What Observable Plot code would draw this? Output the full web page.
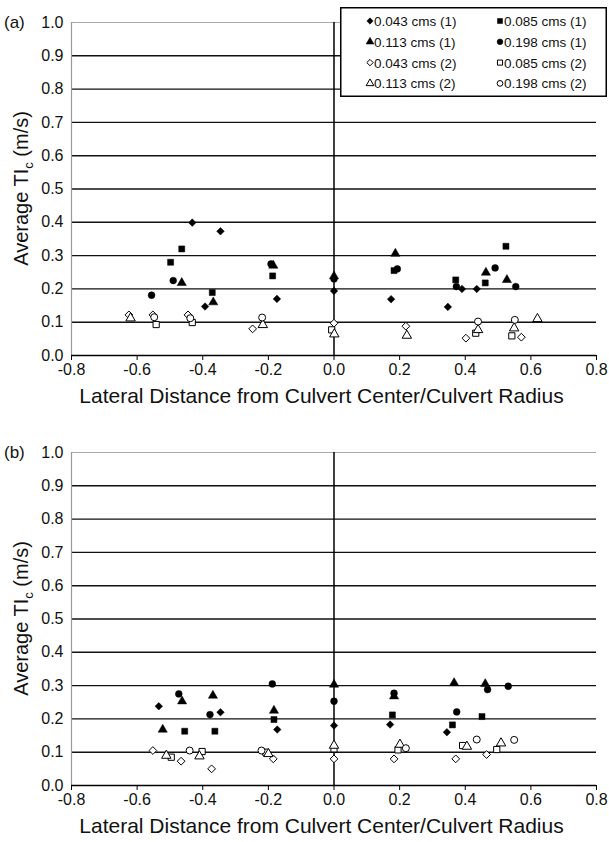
<!DOCTYPE html>
<html><head><meta charset="utf-8">
<script src="https://cdn.jsdelivr.net/npm/d3@7"></script>
<script src="https://cdn.jsdelivr.net/npm/@observablehq/plot@0.6"></script>
<style>
body{margin:0;background:#fff;font-family:"Liberation Sans",Arial,sans-serif;}
#wrap{position:relative;width:609px;height:842px;overflow:hidden;}
.panel{position:absolute;left:0;}
</style></head><body><div id="wrap"></div>
<script>
// ---- axes / legend data ----
const xTicks = [-0.8, -0.6, -0.4, -0.2, 0, 0.2, 0.4, 0.6, 0.8];
const yTicks = [0, 0.1, 0.2, 0.3, 0.4, 0.5, 0.6, 0.7, 0.8, 0.9, 1.0];
const seriesNames = ["0.043 cms (1)", "0.085 cms (1)", "0.113 cms (1)", "0.198 cms (1)",
                     "0.043 cms (2)", "0.085 cms (2)", "0.113 cms (2)", "0.198 cms (2)"];
const seriesSymbols = ["diamond2", "square", "triangle", "circle", "diamond2", "square", "triangle", "circle"];
const seriesFilled = [true, true, true, true, false, false, false, false];
const xTitle = "Lateral Distance from Culvert Center/Culvert Radius";
const panelLabels = ["(a)", "(b)"];

// ---- panel (a) values: [x, y] ----
const a_043_1 = [[-0.432,0.399],[-0.346,0.373],[-0.393,0.147],[-0.174,0.17],[0.0,0.194],[0.174,0.169],[0.347,0.146],[0.39,0.2],[0.435,0.2]];
const a_085_1 = [[-0.498,0.28],[-0.464,0.32],[-0.371,0.189],[-0.187,0.239],[0.183,0.255],[0.371,0.227],[0.461,0.218],[0.524,0.328]];
const a_113_1 = [[-0.464,0.218],[-0.368,0.16],[-0.185,0.27],[0.0,0.238],[0.187,0.306],[0.463,0.249],[0.527,0.227]];
const a_198_1 = [[-0.556,0.181],[-0.49,0.225],[-0.192,0.275],[0.0,0.23],[0.193,0.26],[0.373,0.207],[0.491,0.263],[0.554,0.207]];
const a_043_2 = [[-0.625,0.122],[-0.552,0.122],[-0.445,0.122],[-0.248,0.08],[0.0,0.097],[0.219,0.088],[0.402,0.052],[0.571,0.055]];
const a_085_2 = [[-0.542,0.093],[-0.432,0.099],[-0.007,0.077],[0.432,0.067],[0.542,0.059]];
const a_113_2 = [[-0.62,0.112],[-0.217,0.092],[0.001,0.064],[0.222,0.06],[0.439,0.077],[0.549,0.082],[0.62,0.11]];
const a_198_2 = [[-0.548,0.115],[-0.438,0.112],[-0.219,0.114],[0.439,0.102],[0.551,0.107]];

// ---- panel (b) values: [x, y] ----
const b_043_1 = [[-0.534,0.238],[-0.346,0.22],[-0.173,0.168],[0.0,0.18],[0.171,0.183],[0.344,0.16]];
const b_085_1 = [[-0.455,0.163],[-0.363,0.163],[-0.183,0.198],[0.178,0.212],[0.361,0.182],[0.451,0.207]];
const b_113_1 = [[-0.522,0.168],[-0.463,0.253],[-0.369,0.27],[-0.183,0.225],[0.0,0.303],[0.183,0.268],[0.366,0.308],[0.461,0.305]];
const b_198_1 = [[-0.473,0.275],[-0.378,0.213],[-0.188,0.305],[0.0,0.253],[0.183,0.277],[0.374,0.221],[0.468,0.288],[0.531,0.298]];
const b_043_2 = [[-0.552,0.105],[-0.466,0.073],[-0.373,0.05],[-0.185,0.08],[0.0,0.08],[0.183,0.08],[0.371,0.08],[0.465,0.093]];
const b_085_2 = [[-0.496,0.085],[-0.402,0.102],[-0.208,0.1],[0.0,0.11],[0.195,0.107],[0.392,0.12],[0.496,0.108]];
const b_113_2 = [[-0.511,0.09],[-0.41,0.088],[-0.2,0.095],[0.0,0.12],[0.201,0.123],[0.405,0.117],[0.509,0.127]];
const b_198_2 = [[-0.44,0.105],[-0.221,0.105],[0.219,0.112],[0.435,0.138],[0.549,0.137]];

const panelA = [a_043_1, a_085_1, a_113_1, a_198_1, a_043_2, a_085_2, a_113_2, a_198_2];
const panelB = [b_043_1, b_085_1, b_113_1, b_198_1, b_043_2, b_085_2, b_113_2, b_198_2];

const FONT = "Liberation Sans, Arial, sans-serif";
const wrap = document.getElementById("wrap");

function makePanel(series, label, top, height, mBottom, withLegend) {
  const mTop = 22, mLeft = 71, mRight = 13;
  const dots = [];
  // hollow first, then filled
  [4,5,6,7,0,1,2,3].forEach(i => {
    dots.push(Plot.dot(series[i], {
      x: d => d[0], y: d => d[1],
      symbol: seriesSymbols[i],
      r: seriesFilled[i] ? 3.4 : 3.5,
      fill: seriesFilled[i] ? "#000" : "#fff",
      stroke: "#000",
      strokeWidth: seriesFilled[i] ? 0.5 : 1
    }));
  });
  const svg = Plot.plot({
    width: 609, height,
    marginTop: mTop, marginBottom: mBottom, marginLeft: mLeft, marginRight: mRight,
    x: {domain: [-0.8, 0.8]},
    y: {domain: [0, 1]},
    style: {fontFamily: FONT, fontSize: "16px", background: "transparent", color: "#111", overflow: "visible"},
    marks: [
      Plot.ruleY(yTicks.filter(d => d > 0 && d < 1), {stroke: "#111", strokeWidth: 1.4}),
      Plot.ruleY([1], {stroke: "#aaa", strokeWidth: 1.2}),
      Plot.ruleX([-0.8], {stroke: "#999", strokeWidth: 1.2}),
      Plot.axisX({ticks: xTicks, tickSize: 5, tickPadding: 3, tickFormat: d => d.toFixed(1), label: null, stroke: "#000"}),
      Plot.axisY({ticks: yTicks, tickSize: 0, tickPadding: 8, tickFormat: d => d.toFixed(1), label: null}),
      Plot.ruleY([0], {stroke: "#000", strokeWidth: 1.5}),
      Plot.ruleX([0], {stroke: "#000", strokeWidth: 1.5}),
      ...dots
    ]
  });
  const s = d3.select(svg);
  const plotBottom = height - mBottom;
  // panel label
  s.append("text").attr("x", 4).attr("y", mTop + 6).attr("text-anchor", "start")
    .attr("font-family", FONT).attr("font-size", 17).attr("fill", "#111").text(label);
  // y title with subscript
  const yt = s.append("text")
    .attr("transform", `translate(${28},${(mTop + plotBottom) / 2}) rotate(-90)`)
    .attr("text-anchor", "middle").attr("font-family", FONT).attr("font-size", 20).attr("fill", "#111");
  yt.append("tspan").text("Average TI");
  yt.append("tspan").attr("font-size", 13).attr("dy", 5).text("c");
  yt.append("tspan").attr("dy", -5).text(" (m/s)");
  // x title
  s.append("text").attr("x", (mLeft + 609 - mRight) / 2 - 12).attr("y", plotBottom + 48)
    .attr("text-anchor", "middle").attr("font-family", FONT).attr("font-size", 21).attr("fill", "#111")
    .text(xTitle);

  const div = document.createElement("div");
  div.className = "panel";
  div.style.top = top + "px";
  div.appendChild(svg);
  wrap.appendChild(div);

  if (withLegend) {
    const lg = d3.select(wrap).append("svg")
      .style("position", "absolute").style("left", "340px").style("top", "7px")
      .attr("width", 267).attr("height", 90);
    lg.append("rect").attr("x", 0.75).attr("y", 0.75).attr("width", 265.5).attr("height", 88.5)
      .attr("fill", "#fff").attr("stroke", "#000").attr("stroke-width", 1.5);
    const symMap = {diamond2: d3.symbolDiamond2, square: d3.symbolSquare, triangle: d3.symbolTriangle, circle: d3.symbolCircle};
    seriesNames.forEach((name, i) => {
      const col = i % 2, row = Math.floor(i / 2);
      const cx = col === 0 ? 30 : 160, cy = 14 + row * 20.8;
      lg.append("path").attr("transform", `translate(${cx},${cy})`)
        .attr("d", d3.symbol(symMap[seriesSymbols[i]], 26)())
        .attr("fill", seriesFilled[i] ? "#000" : "#fff").attr("stroke", "#000").attr("stroke-width", seriesFilled[i] ? 0.5 : 1);
      lg.append("text").attr("x", cx + 4).attr("y", cy + 5)
        .attr("font-family", FONT).attr("font-size", 13.5).attr("fill", "#111").text(name);
    });
  }
}

makePanel(panelA, panelLabels[0], 0, 430, 75, true);
makePanel(panelB, panelLabels[1], 430, 412, 57, false);
</script>
</body></html>
